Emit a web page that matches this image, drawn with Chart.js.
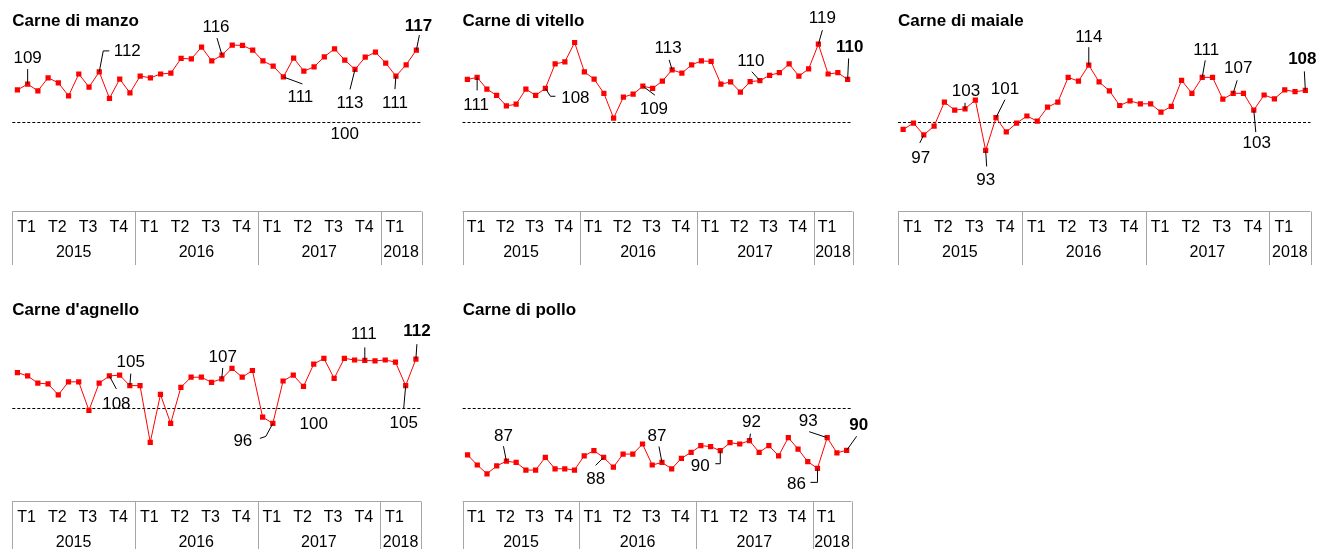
<!DOCTYPE html>
<html>
<head>
<meta charset="utf-8">
<script src="https://cdn.jsdelivr.net/npm/chart.js@4.4.1/dist/chart.umd.min.js"></script>
<style>
  body { margin: 0; background: #fff; }
  #page { position: relative; width: 1317px; height: 549px; overflow: hidden; }
  canvas { position: absolute; }
</style>
</head>
<body>
<div id="page">
  <canvas id="manzo" width="440" height="270" style="left:0;top:0"></canvas>
  <canvas id="vitello" width="437" height="270" style="left:440px;top:0"></canvas>
  <canvas id="maiale" width="440" height="270" style="left:877px;top:0"></canvas>
  <canvas id="agnello" width="440" height="259" style="left:0;top:290px"></canvas>
  <canvas id="pollo" width="437" height="259" style="left:440px;top:290px"></canvas>
</div>
<script>
// categorie: mesi da gen 2015 ad apr 2018
const years = ['2015', '2016', '2017', '2018'];
const monthsInYear = [12, 12, 12, 4];
const quarterTicks = [['T1', 'T2', 'T3', 'T4'], ['T1', 'T2', 'T3', 'T4'], ['T1', 'T2', 'T3', 'T4'], ['T1']];
const monthNames = ['gen', 'feb', 'mar', 'apr', 'mag', 'giu', 'lug', 'ago', 'set', 'ott', 'nov', 'dic'];

const months = [];
years.forEach((y, k) => {
  for (let m = 0; m < monthsInYear[k]; m++) months.push(monthNames[m] + ' ' + y);
});

const baseValue = 100;

const manzo = [107.7, 109.1, 107.5, 110.6, 109.4, 106.3, 111.5, 108.4, 112.0, 105.7,
  110.3, 107.0, 111.0, 110.6, 111.5, 111.7, 115.2, 115.1, 117.9, 114.6,
  116.0, 118.4, 118.3, 117.2, 114.6, 113.4, 110.8, 115.3, 112.2, 113.2,
  115.6, 117.5, 114.8, 112.6, 115.5, 116.7, 114.1, 111.0, 113.7, 117.2];

const vitello = [110.2, 110.7, 107.9, 106.4, 103.9, 104.3, 107.9, 106.4, 108.1, 113.9,
  114.4, 119.0, 112.0, 110.3, 106.9, 101.0, 106.0, 106.7, 108.6, 108.1,
  109.8, 112.5, 111.7, 113.7, 114.6, 114.5, 109.1, 109.6, 107.2, 109.7,
  109.9, 111.2, 111.8, 113.9, 111.0, 112.7, 118.6, 111.5, 111.8, 110.2];

const maiale = [98.3, 99.8, 97.0, 99.1, 104.8, 102.9, 103.2, 105.3, 93.3, 101.1,
  97.7, 99.8, 101.5, 100.3, 103.6, 104.8, 110.7, 109.8, 113.6, 109.6,
  107.5, 104.0, 105.1, 104.4, 104.4, 102.4, 103.8, 110.0, 106.9, 110.7,
  110.7, 105.5, 106.9, 106.9, 102.9, 106.5, 105.6, 107.7, 107.3, 107.6];

const agnello = [108.5, 107.7, 106.0, 105.8, 103.2, 106.3, 106.3, 99.5, 106.0, 107.7,
  107.9, 105.4, 105.4, 91.9, 103.3, 96.4, 105.0, 107.4, 107.4, 106.2,
  107.0, 109.5, 107.4, 109.0, 97.9, 96.4, 106.5, 107.9, 105.2, 110.5,
  111.9, 107.1, 111.9, 111.5, 111.4, 111.3, 111.5, 111.0, 105.4, 111.7];

const pollo = [88.9, 86.5, 84.4, 86.3, 87.4, 87.1, 85.3, 85.3, 88.3, 85.6,
  85.6, 85.3, 88.7, 89.9, 88.3, 86.0, 89.1, 89.1, 91.5, 86.5,
  87.1, 85.6, 88.1, 89.5, 91.1, 90.9, 89.9, 91.8, 91.5, 92.3,
  89.5, 91.1, 88.7, 93.0, 90.3, 87.3, 85.7, 93.0, 89.4, 90.0];

// etichette dei valori: indice del punto, posizione del testo e linea di richiamo (px dal punto)
const manzoNotes = [
  { i: 1, t: [0, -26], path: [[0, -15]] },
  { i: 8, t: [28, -21], path: [[4, -21], [10, -21]] },
  { i: 20, t: [-6, -28], path: [[-5, -17]] },
  { i: 26, t: [17, 20], path: [[19, 7]] },
  { i: 33, t: [-5, 34], path: [[-5, 20]] },
  { i: 37, t: [-1, 27], path: [[-1, 13]] },
  { i: 39, t: [2, -24], path: [[3, -15]], bold: true }
];
const vitelloNotes = [
  { i: 1, t: [-1, 28], path: [[0, 13]] },
  { i: 8, t: [30, 10], path: [[5, 8], [10, 8]] },
  { i: 18, t: [11, 23], path: [[12, 9]] },
  { i: 21, t: [-4, -21], path: [[-3, -10]] },
  { i: 30, t: [-9, -19], path: [[-8, -9]] },
  { i: 36, t: [4, -26], path: [[4, -14]] },
  { i: 39, t: [2, -32], path: [[1, -21]], bold: true }
];
const maialeNotes = [
  { i: 2, t: [-3, 23], path: [[-4, 8]] },
  { i: 6, t: [1, -18], path: [[0, -6]] },
  { i: 8, t: [0, 30], path: [[1, 16]] },
  { i: 9, t: [9, -28], path: [[9, -18]] },
  { i: 18, t: [0, -28], path: [[0, -18]] },
  { i: 29, t: [4, -27], path: [[3, -17]] },
  { i: 32, t: [5, -25], path: [[4, -13]] },
  { i: 34, t: [3, 33], path: [[2, 22]] },
  { i: 39, t: [-3, -31], path: [[-1, -19]], bold: true }
];
const agnelloNotes = [
  { i: 9, t: [7, 28], path: [[7, 13]] },
  { i: 11, t: [1, -23], path: [[1, -12]] },
  { i: 20, t: [1, -22], path: [[1, -11]] },
  { i: 25, t: [-30, 18], path: [[-7, 13], [-13, 15]] },
  { i: 34, t: [-1, -26], path: [[0, -13]] },
  { i: 38, t: [-2, 38], path: [[-2, 23]] },
  { i: 39, t: [1, -28], path: [[1, -15]], bold: true }
];
const polloNotes = [
  { i: 4, t: [-3, -25], path: [[-3, -15]] },
  { i: 14, t: [-8, 22], path: [[-8, 8]] },
  { i: 20, t: [-5, -26], path: [[-3, -16]] },
  { i: 26, t: [-20, 16], path: [[0, 13], [-5, 13]] },
  { i: 29, t: [2, -18], path: [[1, -7]] },
  { i: 36, t: [-21, 16], path: [[0, 14], [-7, 14]] },
  { i: 37, t: [-19, -16], path: [[-18, -6]] },
  { i: 39, t: [12, -25], path: [[10, -14]], bold: true }
];

Chart.defaults.font.family = "'Liberation Sans', Arial, sans-serif";
Chart.defaults.color = '#000';

const FONT = "'Liberation Sans', Arial, sans-serif";

const decor = {
  id: 'decor',
  beforeDatasetsDraw(chart) {
    const { ctx, chartArea } = chart;
    const y = Math.round(chart.scales.y.getPixelForValue(baseValue)) + 0.5;
    ctx.save();
    ctx.strokeStyle = '#000';
    ctx.lineWidth = 1;
    ctx.setLineDash([3, 2]);
    ctx.beginPath();
    ctx.moveTo(chartArea.left, y);
    ctx.lineTo(chartArea.right, y);
    ctx.stroke();
    ctx.restore();
  },
  afterDatasetsDraw(chart, args, opts) {
    const { ctx } = chart;
    const x = chart.scales.x, ys = chart.scales.y;
    const meta = chart.getDatasetMeta(0);
    const values = chart.data.datasets[0].data;
    ctx.save();
    ctx.fillStyle = '#000';
    ctx.textAlign = 'center';
    ctx.textBaseline = 'middle';

    // etichetta della linea 100
    if (opts.refAt != null) {
      ctx.font = '17px ' + FONT;
      ctx.fillText(String(baseValue), x.getPixelForValue(opts.refAt), ys.getPixelForValue(baseValue) + opts.refDy);
    }

    // etichette con linee di richiamo
    opts.notes.forEach(n => {
      const p = meta.data[n.i];
      ctx.strokeStyle = '#000';
      ctx.lineWidth = 1;
      ctx.beginPath();
      ctx.moveTo(p.x, p.y);
      n.path.forEach(q => ctx.lineTo(p.x + q[0], p.y + q[1]));
      ctx.stroke();
      ctx.font = (n.bold ? 'bold ' : '') + '17px ' + FONT;
      ctx.fillText(String(Math.round(values[n.i])), p.x + n.t[0], p.y + n.t[1]);
    });
    ctx.restore();
  },
  afterDraw(chart) {
    // asse a due livelli: trimestri e anni
    const { ctx, chartArea } = chart;
    const x = chart.scales.x;
    const half = (x.getPixelForValue(1) - x.getPixelForValue(0)) / 2;
    const top = 211.5, bottom = 265;
    ctx.save();
    ctx.strokeStyle = '#a6a6a6';
    ctx.lineWidth = 1;
    ctx.beginPath();
    ctx.moveTo(chartArea.left, top);
    ctx.lineTo(chartArea.right, top);
    let start = 0;
    const edges = [];
    years.forEach((y, k) => {
      edges.push(x.getPixelForValue(start) - half);
      start += monthsInYear[k];
    });
    edges.push(x.getPixelForValue(start - 1) + half);
    edges.forEach(e => {
      const xx = Math.round(e) + 0.5;
      ctx.moveTo(xx, top);
      ctx.lineTo(xx, bottom);
    });
    ctx.stroke();

    ctx.fillStyle = '#000';
    ctx.textAlign = 'center';
    ctx.textBaseline = 'middle';
    ctx.font = '16px ' + FONT;
    start = 0;
    years.forEach((y, k) => {
      quarterTicks[k].forEach((q, j) => {
        ctx.fillText(q, x.getPixelForValue(start + j * 3 + 1) - 1, 227.5);
      });
      const c = (x.getPixelForValue(start) + x.getPixelForValue(start + monthsInYear[k] - 1)) / 2;
      ctx.fillText(y, c, 252.5);
      start += monthsInYear[k];
    });
    ctx.restore();
  }
};

function panel(id, title, values, notes, pad, titlePad, ref) {
  return new Chart(document.getElementById(id), {
    type: 'line',
    data: {
      labels: months,
      datasets: [{
        data: values,
        borderColor: '#ff0000',
        backgroundColor: '#ff0000',
        borderWidth: 1,
        tension: 0,
        pointStyle: 'rect',
        pointRadius: 3.7,
        pointBorderWidth: 0,
        pointBackgroundColor: '#ff0000'
      }]
    },
    options: {
      responsive: false,
      animation: false,
      layout: { padding: pad },
      scales: {
        x: { type: 'category', offset: true, display: false },
        y: { min: 80, max: 120, display: false }
      },
      plugins: {
        legend: { display: false },
        tooltip: { enabled: false },
        title: {
          display: true,
          text: title,
          align: 'start',
          color: '#000',
          font: { size: 17, weight: 'bold', lineHeight: 1.2 },
          padding: titlePad
        },
        decor: { notes: notes, refAt: ref ? ref[0] : null, refDy: ref ? ref[1] : 0 }
      }
    },
    plugins: [decor]
  });
}

panel('manzo', 'Carne di manzo', manzo, manzoNotes,
  { left: 12.3, right: 18.5, top: 0, bottom: 63.7 }, { top: 11, bottom: 6.9 }, [32, 12]);
panel('vitello', 'Carne di vitello', vitello, vitelloNotes,
  { left: 22.5, right: 24.5, top: 0, bottom: 63.7 }, { top: 11, bottom: 6.9 });
panel('maiale', 'Carne di maiale', maiale, maialeNotes,
  { left: 21, right: 6.5, top: 0, bottom: 63.7 }, { top: 11, bottom: 6.9 });
panel('agnello', "Carne d'agnello", agnello, agnelloNotes,
  { left: 12.3, right: 19, top: 0, bottom: 56.7 }, { top: 10, bottom: 3.9 }, [29, 16]);
panel('pollo', 'Carne di pollo', pollo, polloNotes,
  { left: 22.7, right: 25.5, top: 0, bottom: 56.7 }, { top: 10, bottom: 3.9 });
</script>
</body>
</html>
